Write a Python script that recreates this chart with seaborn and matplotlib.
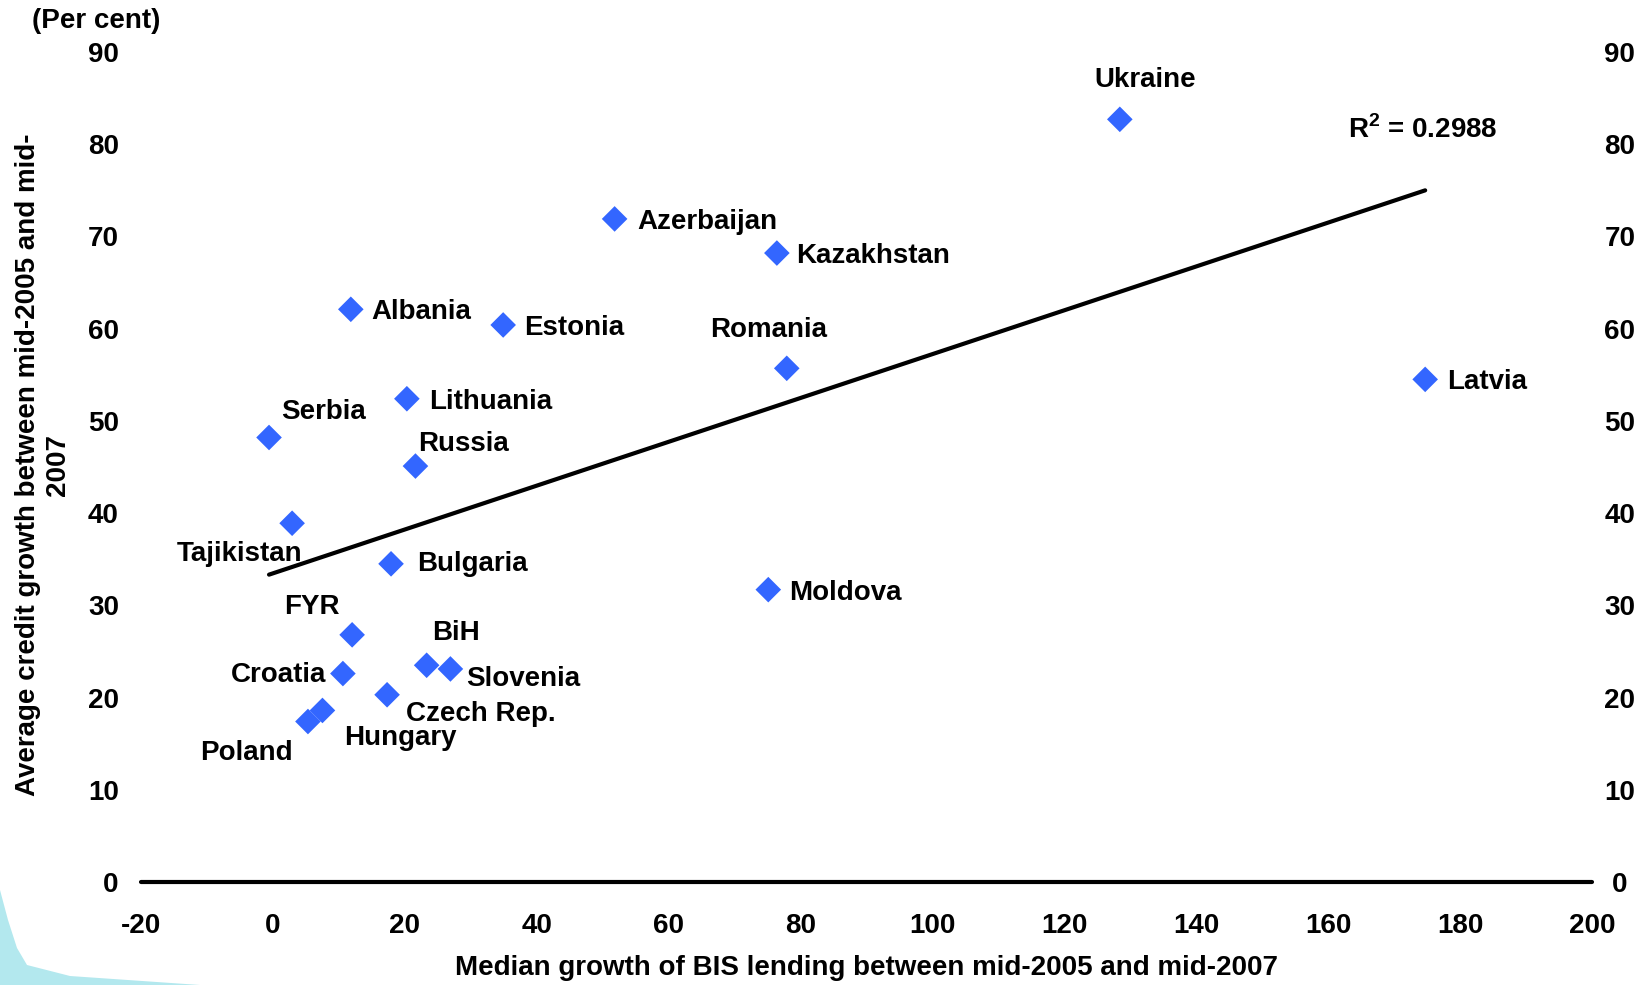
import numpy as np
import pandas as pd
import seaborn as sns
import matplotlib.pyplot as plt
from matplotlib.patches import Polygon

# values
countries = ['Ukraine', 'Azerbaijan', 'Kazakhstan', 'Albania', 'Estonia', 'Romania',
             'Latvia', 'Lithuania', 'Serbia', 'Russia', 'Tajikistan', 'Bulgaria',
             'Moldova', 'FYR', 'Croatia', 'BiH', 'Slovenia', 'Czech Rep.',
             'Hungary', 'Poland']
bis_growth = [128.4, 51.8, 76.4, 11.8, 34.9, 77.9,
              174.7, 20.3, -0.6, 21.6, 2.9, 17.9,
              75.1, 12.0, 10.6, 23.3, 26.9, 17.3,
              7.5, 5.3]
credit_growth = [82.7, 71.9, 68.2, 62.1, 60.4, 55.7,
                 54.5, 52.4, 48.2, 45.1, 38.9, 34.5,
                 31.7, 26.8, 22.6, 23.5, 23.1, 20.3,
                 18.6, 17.4]
x_ticks = list(range(-20, 201, 20))
y_ticks = list(range(0, 91, 10))
r2_text = r'R$^{\mathbf{2}}$ = 0.2988'

# label placement: (dx, dy) in pixels, horizontal alignment
label_pos = {
    'Ukraine': (25, 42, 'center'), 'Azerbaijan': (23, 0, 'left'),
    'Kazakhstan': (19, 0, 'left'), 'Albania': (21, 0, 'left'),
    'Estonia': (21, 0, 'left'), 'Romania': (-18, 41, 'center'),
    'Latvia': (22, 0, 'left'), 'Lithuania': (22, 0, 'left'),
    'Serbia': (54, 28, 'center'), 'Russia': (48, 25, 'center'),
    'Tajikistan': (-53, -28, 'center'), 'Bulgaria': (26, 3, 'left'),
    'Moldova': (21, 0, 'left'), 'FYR': (-40, 31, 'center'),
    'Croatia': (-17, 2, 'right'), 'BiH': (29, 35, 'center'),
    'Slovenia': (16, -7, 'left'), 'Czech Rep.': (19, -16, 'left'),
    'Hungary': (78, -25, 'center'), 'Poland': (-62, -28, 'center'),
}

df = pd.DataFrame({'country': countries, 'bis': bis_growth, 'credit': credit_growth})

FS = 20

sns.set_style('white')
plt.rcParams['font.family'] = ['Liberation Sans', 'DejaVu Sans']
plt.rcParams['font.weight'] = 'bold'
plt.rcParams['text.color'] = 'black'
plt.rcParams['xtick.color'] = 'black'
plt.rcParams['ytick.color'] = 'black'
plt.rcParams['axes.unicode_minus'] = False
plt.rcParams['mathtext.fontset'] = 'custom'
plt.rcParams['mathtext.rm'] = 'Liberation Sans:bold'
plt.rcParams['mathtext.bf'] = 'Liberation Sans:bold'

fig = plt.figure(figsize=(16.52, 9.85), dpi=100)
ax = fig.add_axes([0.0854, 0.1046, 0.8783, 0.8426])

# faint cyan swoosh in the lower-left corner
W, H = 1652, 985
swoosh = [(0, 890), (8, 920), (17, 948), (27, 965), (70, 976), (200, 985), (0, 985)]
fig.patches.append(Polygon([(px / W, 1 - py / H) for px, py in swoosh],
                           closed=True, transform=fig.transFigure, facecolor='#b3e8ee',
                           edgecolor='none', zorder=0))

sns.regplot(data=df, x='bis', y='credit', ax=ax, scatter=False, ci=None, truncate=True,
            line_kws={'color': 'black', 'lw': 3})
sns.scatterplot(data=df, x='bis', y='credit', ax=ax, marker='D', s=170,
                color='#3366ff', edgecolor='none', zorder=3)

for name, xv, yv in zip(countries, bis_growth, credit_growth):
    dx, dy, ha = label_pos[name]
    ax.annotate(name, (xv, yv), xytext=(dx, dy - 3), textcoords='offset pixels',
                ha=ha, va='center', fontsize=FS, fontweight='bold')

ax.text(174.3, 81.6, r2_text, ha='center', va='center', fontsize=FS, fontweight='bold')

ax.set_xlim(-20, 200)
ax.set_ylim(0, 90)
ax.set_xticks(x_ticks)
ax.set_yticks(y_ticks)
ax.set_xlabel('')
ax.set_ylabel('')
ax.tick_params(length=0, labelsize=FS)
ax.tick_params(axis='x', pad=22)
ax.tick_params(axis='y', pad=16)

ax2 = ax.twinx()
ax2.set_ylim(0, 90)
ax2.set_yticks(y_ticks)
ax2.tick_params(length=0, labelsize=FS, pad=20)
plt.setp(ax2.get_yticklabels(), ha='center')

for a in (ax, ax2):
    for side in ['left', 'right', 'top', 'bottom']:
        a.spines[side].set_visible(False)
ax.spines['bottom'].set_visible(True)
ax.spines['bottom'].set_linewidth(3)
ax.spines['bottom'].set_color('black')
ax.spines['bottom'].set_capstyle('round')

fig.text(0.0263, 0.528, 'Average credit growth between mid-2005 and mid-\n2007',
         rotation=90, ha='center', va='center', multialignment='center', fontsize=FS)
fig.text(0.5245, 0.0173, 'Median growth of BIS lending between mid-2005 and mid-2007',
         ha='center', va='center', fontsize=FS)
fig.text(0.058, 0.9787, '(Per cent)', ha='center', va='center', fontsize=FS)

fig.savefig('out.png', dpi=100)
